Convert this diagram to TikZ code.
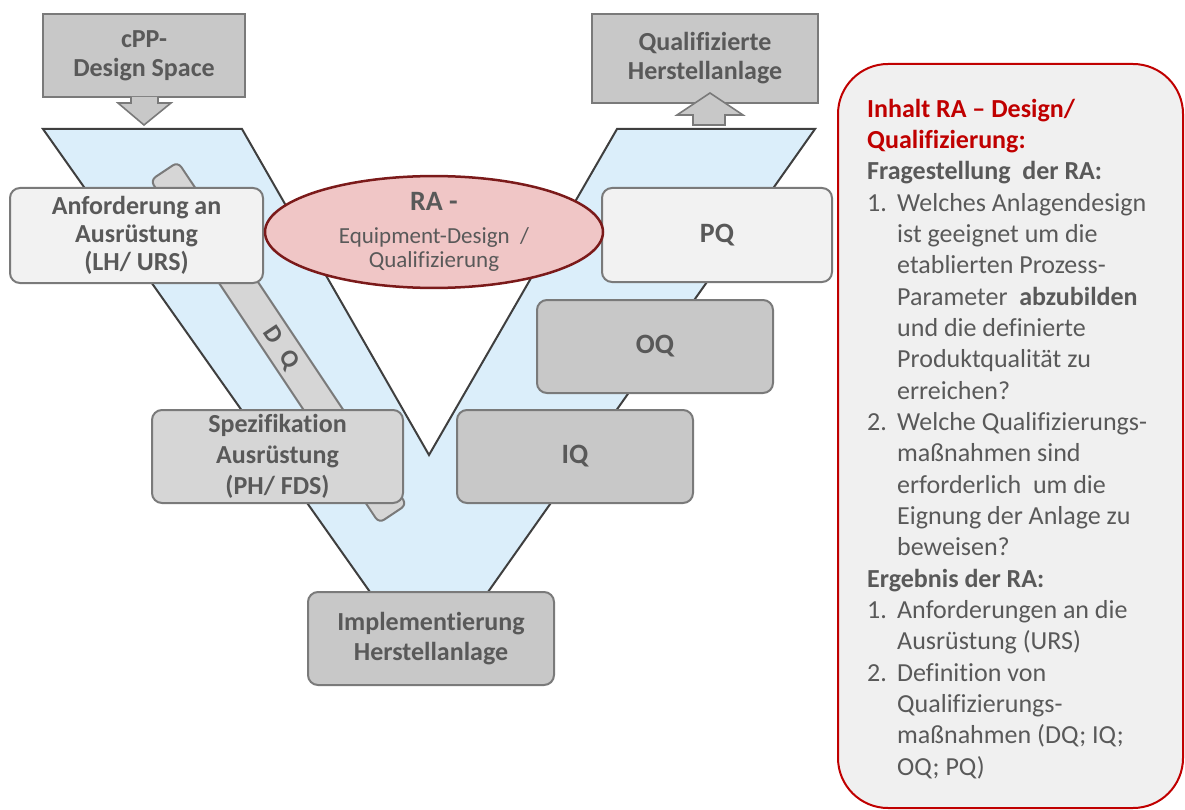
\documentclass[tikz,border=0pt]{standalone}
\usepackage{fontspec}
\setmainfont{Carlito}[Ligatures=NoCommon]
\usetikzlibrary{shapes.geometric,calc}

\definecolor{txtgray}{HTML}{595959}
\definecolor{boxline}{HTML}{7A7A7A}
\definecolor{vfill}{HTML}{DBEEFA}
\definecolor{vline}{HTML}{3F3F3F}
\definecolor{lightbox}{HTML}{F2F2F2}
\definecolor{midbox}{HTML}{D6D6D6}
\definecolor{darkbox}{HTML}{C8C8C8}
\definecolor{rafill}{HTML}{F0C6C6}
\definecolor{raline}{HTML}{7B1A1A}
\definecolor{infored}{HTML}{C00000}
\definecolor{infofill}{HTML}{F0F0F0}

\newcommand\itemnum[1]{\makebox[30pt][l]{#1}}
\newcommand\itemgap{\hspace*{30pt}}

\begin{document}
\begin{tikzpicture}[x=1pt,y=-1pt,
  stagebox/.style={draw=boxline, line width=2pt, rounded corners=10pt,
    text=txtgray, align=center, inner sep=0pt,
    font=\fontsize{26}{28}\selectfont\bfseries},
  inbox/.style={draw=boxline, line width=2pt, fill=darkbox,
    text=txtgray, align=center, inner sep=0pt,
    font=\fontsize{26}{29}\selectfont\bfseries},
  qbox/.style={stagebox, font=\fontsize{28}{30}\selectfont\bfseries},
  blockarrow/.style={draw=boxline, line width=1.6pt, fill=darkbox, line join=miter},
]
\useasboundingbox (0,0) rectangle (1185,810);

% the V band
\draw[fill=vfill, draw=vline, line width=2pt, line join=miter]
  (43,129) -- (242,129) -- (429,455) -- (617,129) -- (815,129)
  -- (488,592) -- (370,592) -- cycle;

% DQ bar along the left arm
\node[draw=boxline, line width=2pt, fill=midbox, rounded corners=6pt,
      minimum width=412pt, minimum height=33pt, inner sep=0pt, rotate=-56.3]
  (dqbar) at (278.5,342.5) {};
\node[text=txtgray, font=\fontsize{25}{25}\selectfont\bfseries, rotate=-56.3,
      inner sep=0pt] (dqlabel) at (281,348) {D\hspace{14pt}Q};

% input and output boxes
\node[inbox, minimum width=202pt, minimum height=83pt] (cpp) at (144,55.5)
  {cPP-\\Design Space};
\node[inbox, minimum width=226pt, minimum height=89pt] (qual) at (705,58.5)
  {Qualifizierte\\Herstellanlage};

\draw[blockarrow] (131,97) -- (131,103) -- (118,103) -- (144,125)
  -- (171,103) -- (158,103) -- (158,97);
\draw[blockarrow] (693,125) -- (693,115) -- (677,115) -- (710,93)
  -- (743,115) -- (725,115) -- (725,125) -- cycle;

% stages on the left arm
\node[stagebox, fill=lightbox, minimum width=253pt, minimum height=95pt]
  (anf) at (136.5,235.5) {Anforderung an\\Ausrüstung\\(LH/ URS)};
\node[stagebox, fill=midbox, minimum width=251pt, minimum height=93pt,
      font=\fontsize{26}{31}\selectfont\bfseries]
  (spez) at (277.5,456.5) {Spezifikation\\Ausrüstung\\(PH/ FDS)};

% bottom stage
\node[stagebox, fill=darkbox, minimum width=246pt, minimum height=93pt,
      font=\fontsize{26}{30}\selectfont\bfseries]
  (impl) at (431,638.5) {Implementierung\\Herstellanlage};

% stages on the right arm
\node[qbox, fill=lightbox, minimum width=230pt, minimum height=94pt]
  (pq) at (717,235) {PQ};
\node[qbox, fill=darkbox, minimum width=236pt, minimum height=93pt]
  (oq) at (655,346.5) {OQ};
\node[qbox, fill=darkbox, minimum width=236pt, minimum height=93pt]
  (iq) at (575,456.5) {IQ};

% risk analysis ellipse
\node[ellipse, draw=raline, line width=2.5pt, fill=rafill, text=txtgray,
      minimum width=338pt, minimum height=107pt, inner sep=0pt, align=center,
      font=\fontsize{23}{24}\selectfont]
  (ra) at (434,232)
  {{\fontsize{28}{28}\selectfont\bfseries RA -}\\[9pt]
   Equipment-Design~~/\\Qualifizierung};

% content panel
\node[draw=infored, line width=2pt, fill=infofill, rounded corners=50pt,
      minimum width=345pt, minimum height=744pt, inner sep=0pt]
  (info) at (1010.5,436) {};
\node[anchor=north west, inner sep=0pt, align=left, text=txtgray,
      font=\fontsize{26}{31.33}\selectfont]
  (infotext) at (867,95.07)
  {\strut\textcolor{infored}{\bfseries Inhalt RA – Design/}\\
   \textcolor{infored}{\bfseries Qualifizierung:}\\
   {\bfseries Fragestellung\ \ der RA:}\\
   \itemnum{1.}Welches Anlagendesign\\
   \itemgap ist geeignet um die\\
   \itemgap etablierten Prozess-\\
   \itemgap Parameter\ \ {\bfseries abzubilden}\\
   \itemgap und die definierte\\
   \itemgap Produktqualität zu\\
   \itemgap erreichen?\\
   \itemnum{2.}Welche Qualifizierungs-\\
   \itemgap maßnahmen sind\\
   \itemgap erforderlich\ \ um die\\
   \itemgap Eignung der Anlage zu\\
   \itemgap beweisen?\\
   {\bfseries Ergebnis der RA:}\\
   \itemnum{1.}Anforderungen an die\\
   \itemgap Ausrüstung (URS)\\
   \itemnum{2.}Definition von\\
   \itemgap Qualifizierungs-\\
   \itemgap maßnahmen (DQ; IQ;\\
   \itemgap OQ; PQ)};
\end{tikzpicture}
\end{document}
